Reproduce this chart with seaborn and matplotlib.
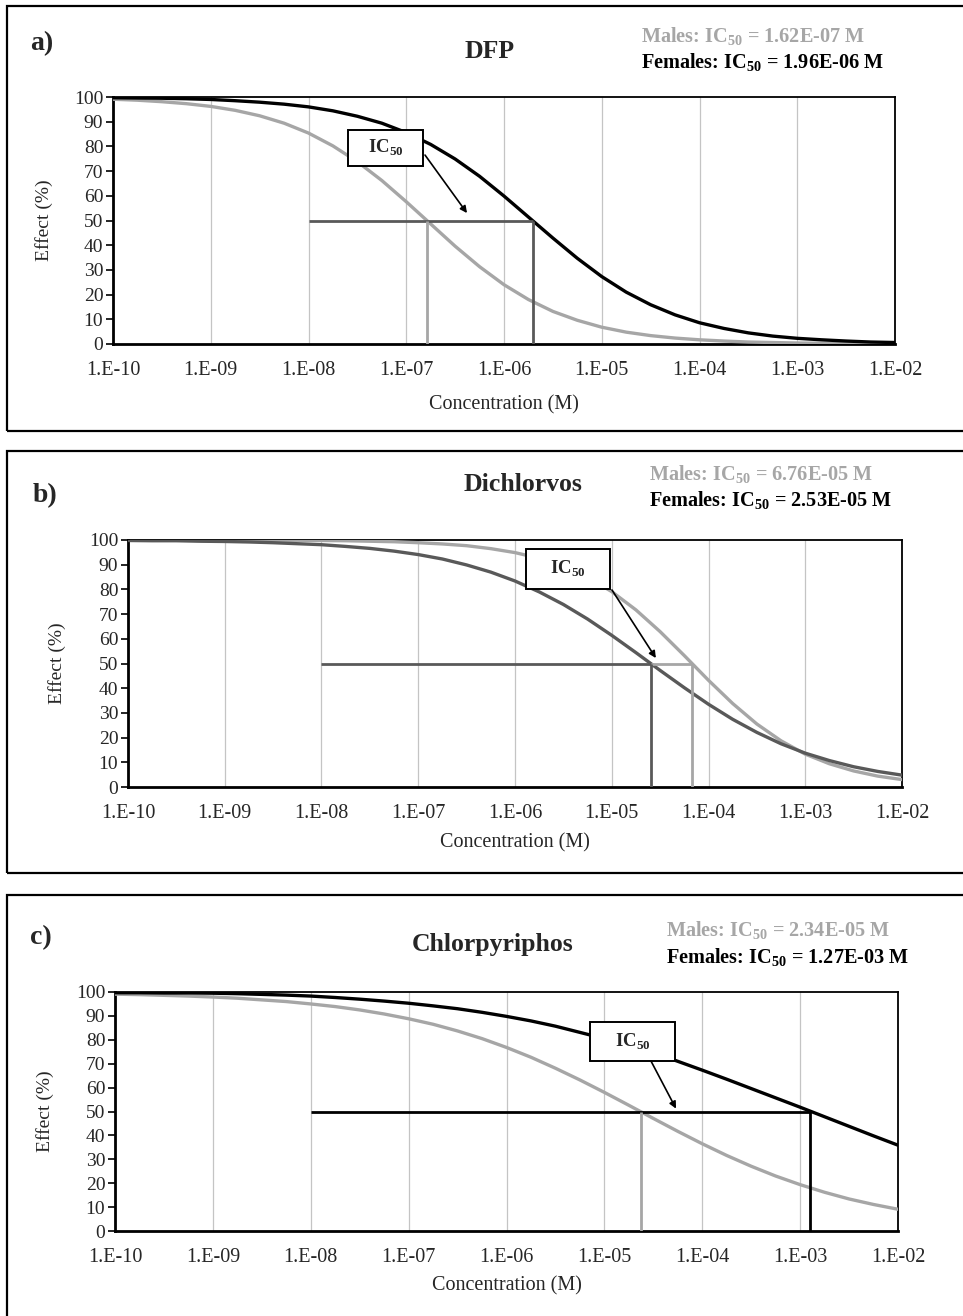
import numpy as np
import matplotlib
matplotlib.use("Agg")
import matplotlib.pyplot as plt
import seaborn as sns
from matplotlib.patches import Rectangle
from matplotlib.ticker import FixedLocator, FixedFormatter, NullLocator

# concentration grid (log10 M), quarter decades from 1e-10 to 1e-2
log_conc = [-10.0, -9.75, -9.5, -9.25, -9.0, -8.75, -8.5, -8.25, -8.0, -7.75, -7.5,
            -7.25, -7.0, -6.75, -6.5, -6.25, -6.0, -5.75, -5.5, -5.25, -5.0, -4.75,
            -4.5, -4.25, -4.0, -3.75, -3.5, -3.25, -3.0, -2.75, -2.5, -2.25, -2.0]

# effect (%)
dfp_males = [99.1, 98.7, 98.1, 97.3, 96.2, 94.6, 92.4, 89.4, 85.4, 80.2, 73.8,
             66.2, 57.6, 48.6, 39.6, 31.3, 24.0, 18.0, 13.2, 9.6, 6.8, 4.8,
             3.4, 2.4, 1.7, 1.2, 0.8, 0.6, 0.4, 0.3, 0.2, 0.1, 0.1]
dfp_females = [99.7, 99.6, 99.5, 99.3, 99.0, 98.5, 97.9, 97.1, 96.0, 94.4, 92.2,
               89.4, 85.6, 80.8, 74.9, 67.9, 59.9, 51.4, 42.9, 34.7, 27.3, 21.0,
               15.9, 11.8, 8.6, 6.3, 4.5, 3.2, 2.3, 1.7, 1.2, 0.8, 0.6]
dichlorvos_males = [100.0, 100.0, 100.0, 100.0, 100.0, 99.9, 99.9, 99.9, 99.8, 99.7, 99.5,
                    99.3, 98.9, 98.4, 97.7, 96.5, 94.9, 92.6, 89.4, 84.9, 79.1, 71.7,
                    62.9, 53.2, 43.2, 33.8, 25.5, 18.7, 13.3, 9.4, 6.5, 4.4, 3.0]
dichlorvos_females = [99.8, 99.7, 99.7, 99.5, 99.4, 99.2, 98.9, 98.5, 98.1, 97.4, 96.6,
                      95.5, 94.1, 92.3, 89.9, 87.0, 83.4, 79.0, 73.9, 68.0, 61.4, 54.4,
                      47.2, 40.2, 33.5, 27.4, 22.1, 17.5, 13.7, 10.7, 8.2, 6.3, 4.8]
chlorpyriphos_males = [99.1, 98.9, 98.6, 98.3, 97.9, 97.4, 96.7, 96.0, 95.0, 93.9, 92.5,
                       90.8, 88.8, 86.5, 83.7, 80.5, 76.8, 72.7, 68.1, 63.2, 58.0, 52.6,
                       47.1, 41.7, 36.5, 31.6, 27.1, 23.0, 19.4, 16.2, 13.4, 11.1, 9.1]
chlorpyriphos_females = [99.7, 99.7, 99.6, 99.6, 99.5, 99.3, 99.0, 98.7, 98.3, 97.7, 97.0,
                         96.2, 95.3, 94.2, 93.0, 91.5, 89.8, 87.9, 85.7, 83.1, 80.5, 77.6,
                         74.6, 71.0, 67.3, 63.5, 59.6, 55.7, 51.8, 47.8, 43.8, 39.8, 35.9]

compounds = ["DFP", "Dichlorvos", "Chlorpyriphos"]
panel_letters = ["a)", "b)", "c)"]
ic50_males = [1.62e-07, 6.76e-05, 2.34e-05]
ic50_females = [1.96e-06, 2.53e-05, 1.27e-03]
ic50_males_txt = ["1.62E-07", "6.76E-05", "2.34E-05"]
ic50_females_txt = ["1.96E-06", "2.53E-05", "1.27E-03"]
x_ticks = [1e-10, 1e-9, 1e-8, 1e-7, 1e-6, 1e-5, 1e-4, 1e-3, 1e-2]
x_tick_labels = ["1.E-10", "1.E-09", "1.E-08", "1.E-07", "1.E-06", "1.E-05",
                 "1.E-04", "1.E-03", "1.E-02"]
y_ticks = [0, 10, 20, 30, 40, 50, 60, 70, 80, 90, 100]

males_data = [dfp_males, dichlorvos_males, chlorpyriphos_males]
females_data = [dfp_females, dichlorvos_females, chlorpyriphos_females]

sns.set_style("white")
plt.rcParams["font.family"] = ["Liberation Serif", "DejaVu Serif"]
plt.rcParams["mathtext.fontset"] = "custom"
plt.rcParams["mathtext.rm"] = "Liberation Serif"
plt.rcParams["mathtext.bf"] = "Liberation Serif:bold"

W, H = 963, 1316
fig = plt.figure(figsize=(W / 100, H / 100), dpi=100)


def fx(px):
    return px / W


def fy(py):
    return 1 - py / H


# colours per panel: male curve, female curve, IC50 guide lines
light = "#a6a6a6"
dark = "#595959"
female_colors = ["black", dark, "black"]
guide_colors = [dark, dark, "black"]

# layout in pixels: axes (left, top, right, bottom), outer box (top, bottom)
axes_px = [(113, 97, 895, 344), (128, 540, 902, 787), (115, 992, 898, 1231)]
box_px = [(6, 431), (451, 873), (895, 1330)]
letter_px = [(30, 44), (33, 496), (30, 938)]
title_px = [(490, 52), (523, 485), (493, 945)]
legend_px = [(641, 37, 63), (649, 475, 501), (666, 931, 958)]
ylab_x = [-0.077, -0.080, -0.078]
xlab_y = [-0.206, -0.186, -0.188]
# IC50 label box (axes fraction: x0, y0, x1, y1) and arrow (start, tip)
ic_box = [(0.3005, 0.7206, 0.3964, 0.866), (0.514, 0.8016, 0.6227, 0.9636),
          (0.6066, 0.7113, 0.7152, 0.8745)]
ic_arrow = [((0.399, 0.765), (0.4527, 0.530)), ((0.6253, 0.7976), (0.682, 0.522)),
            ((0.6845, 0.7113), (0.7165, 0.512))]

conc = 10 ** np.array(log_conc)

for i in range(3):
    l, t, r, b = axes_px[i]
    ax = fig.add_axes([fx(l), fy(b), (r - l) / W, (b - t) / H])

    # outer panel frame
    bt, bb = box_px[i]
    fig.patches.append(Rectangle((fx(7), fy(bb)), (W + 10 - 7) / W, (bb - bt) / H,
                                 transform=fig.transFigure, fill=False,
                                 edgecolor="black", lw=1.6, zorder=0))

    sns.lineplot(x=conc, y=males_data[i], color=light, lw=2.4, ax=ax, zorder=3)
    sns.lineplot(x=conc, y=females_data[i], color=female_colors[i], lw=2.4, ax=ax, zorder=4)

    # IC50 guide lines
    ax.hlines(50, 1e-8, ic50_females[i], color=guide_colors[i], lw=2.0, zorder=5)
    if ic50_males[i] > ic50_females[i]:
        ax.hlines(50, ic50_females[i], ic50_males[i], color=light, lw=2.0, zorder=5)
    ax.vlines(ic50_males[i], 0, 50, color=light, lw=2.0, zorder=5)
    ax.vlines(ic50_females[i], 0, 50, color=guide_colors[i], lw=2.0, zorder=5)

    ax.set_xscale("log")
    ax.set_xlim(1e-10, 1e-2)
    ax.set_ylim(0, 100)
    ax.xaxis.set_major_locator(FixedLocator(x_ticks))
    ax.xaxis.set_major_formatter(FixedFormatter(x_tick_labels))
    ax.xaxis.set_minor_locator(NullLocator())
    ax.set_yticks(y_ticks)
    ax.tick_params(axis="x", length=0, pad=12, labelsize=14.5)
    ax.tick_params(axis="y", length=5, width=1.2, pad=2, labelsize=14, left=True,
                   direction="out", color="black")
    ax.grid(axis="x", color="#c4c4c4", lw=0.9)
    ax.set_axisbelow(True)
    for side in ["left", "bottom"]:
        ax.spines[side].set_linewidth(2.0)
        ax.spines[side].set_color("black")
    for side in ["top", "right"]:
        ax.spines[side].set_linewidth(1.3)
        ax.spines[side].set_color("black")
        ax.spines[side].set_visible(True)

    ax.set_xlabel("Concentration (M)", fontsize=14.5)
    ax.set_ylabel("Effect (%)", fontsize=14)
    ax.xaxis.set_label_coords(0.5, xlab_y[i])
    ax.yaxis.set_label_coords(ylab_x[i], 0.5)

    # IC50 label box with arrow
    x0, y0, x1, y1 = ic_box[i]
    ax.add_patch(Rectangle((x0, y0), x1 - x0, y1 - y0, transform=ax.transAxes,
                           facecolor="white", edgecolor="black", lw=1.4, zorder=8,
                           clip_on=False))
    ax.text((x0 + x1) / 2, (y0 + y1) / 2, r"IC$_{\mathbf{50}}$", transform=ax.transAxes,
            ha="center", va="center", fontsize=13.5, fontweight="bold", zorder=9)
    (sx, sy), (tx, ty) = ic_arrow[i]
    ax.annotate("", xy=(tx, ty), xycoords="axes fraction", xytext=(sx, sy),
                textcoords="axes fraction",
                arrowprops=dict(arrowstyle="-|>", color="black", lw=1.2,
                                mutation_scale=10, shrinkA=0, shrinkB=0),
                zorder=9)

    # panel texts
    lx, ly = letter_px[i]
    fig.text(fx(lx), fy(ly), panel_letters[i], fontsize=20, fontweight="bold",
             ha="left", va="center")
    tx_, ty_ = title_px[i]
    fig.text(fx(tx_), fy(ty_), compounds[i], fontsize=18.5, fontweight="bold",
             ha="center", va="center")
    gx, gy1, gy2 = legend_px[i]
    fig.text(fx(gx), fy(gy1), "Males: IC$_{\\mathbf{50}}$ = " + ic50_males_txt[i] + " M",
             fontsize=14.6, fontweight="bold", color=light, ha="left", va="center")
    fig.text(fx(gx), fy(gy2), "Females: IC$_{\\mathbf{50}}$ = " + ic50_females_txt[i] + " M",
             fontsize=14.6, fontweight="bold", color="black", ha="left", va="center")

fig.savefig("out.png", dpi=100)
